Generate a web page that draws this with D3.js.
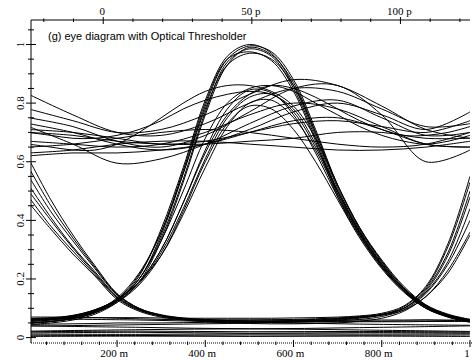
<!DOCTYPE html>
<html>
<head>
<meta charset="utf-8">
<script src="https://cdn.jsdelivr.net/npm/d3@7"></script>
<style>
  body { margin: 0; background: #fff; }
  svg { display: block; }
  .curve { fill: none; stroke: #000; stroke-width: 1; }
  .lab { font-family: "Liberation Serif", serif; font-size: 11px; fill: #000; }
</style>
</head>
<body>
<svg class="chart"></svg>
<script>
const width = 475, height = 360;

// sample times (m) for each kind of trace
const timeFine = [0, 50, 100, 150, 200, 250, 300, 350, 400, 450, 500, 550, 600, 650, 700, 750, 800, 850, 900, 950, 1000];
const timeCoarse = [0, 100, 200, 300, 400, 500, 600, 700, 800, 900, 1000];
const timeFlat = [0, 250, 500, 750, 1000];

// isolated "1" pulses reaching the top
const pulsesHigh = [
  [0.05, 0.055, 0.065, 0.085, 0.125, 0.21, 0.37, 0.58, 0.81, 0.96, 1.0, 0.97, 0.86, 0.69, 0.50, 0.36, 0.25, 0.165, 0.105, 0.075, 0.06],
  [0.055, 0.06, 0.07, 0.09, 0.13, 0.20, 0.35, 0.56, 0.79, 0.95, 0.995, 0.975, 0.88, 0.71, 0.52, 0.37, 0.26, 0.17, 0.11, 0.078, 0.062],
  [0.045, 0.05, 0.06, 0.08, 0.12, 0.19, 0.33, 0.53, 0.76, 0.93, 0.99, 0.965, 0.87, 0.70, 0.51, 0.365, 0.255, 0.165, 0.105, 0.07, 0.052],
  [0.06, 0.063, 0.07, 0.09, 0.128, 0.20, 0.34, 0.54, 0.77, 0.94, 0.985, 0.96, 0.85, 0.68, 0.49, 0.35, 0.245, 0.16, 0.10, 0.07, 0.055],
  [0.05, 0.055, 0.066, 0.088, 0.13, 0.215, 0.36, 0.57, 0.80, 0.95, 0.975, 0.945, 0.84, 0.67, 0.48, 0.345, 0.24, 0.158, 0.10, 0.072, 0.058],
  [0.058, 0.062, 0.072, 0.092, 0.135, 0.22, 0.36, 0.56, 0.78, 0.93, 0.97, 0.95, 0.86, 0.70, 0.52, 0.375, 0.265, 0.175, 0.112, 0.08, 0.062]
];

// lower "1" pulses
const pulsesLow = [
  [0.06, 0.065, 0.074, 0.094, 0.13, 0.19, 0.30, 0.46, 0.64, 0.78, 0.845, 0.835, 0.76, 0.63, 0.48, 0.35, 0.24, 0.16, 0.105, 0.075, 0.06],
  [0.055, 0.06, 0.07, 0.09, 0.125, 0.185, 0.29, 0.44, 0.61, 0.75, 0.82, 0.83, 0.77, 0.65, 0.50, 0.36, 0.25, 0.165, 0.11, 0.077, 0.06],
  [0.065, 0.068, 0.076, 0.095, 0.13, 0.19, 0.28, 0.42, 0.58, 0.72, 0.80, 0.81, 0.75, 0.64, 0.49, 0.355, 0.245, 0.16, 0.105, 0.074, 0.058],
  [0.05, 0.055, 0.065, 0.085, 0.12, 0.18, 0.28, 0.43, 0.60, 0.73, 0.79, 0.78, 0.71, 0.60, 0.47, 0.34, 0.235, 0.155, 0.10, 0.072, 0.055]
];

// "1" pulses with a "1" on one side
const pulsesMixed = [
  [0.06, 0.065, 0.075, 0.095, 0.13, 0.19, 0.30, 0.46, 0.63, 0.76, 0.83, 0.86, 0.85, 0.82, 0.78, 0.74, 0.71, 0.69, 0.69, 0.70, 0.72],
  [0.70, 0.69, 0.68, 0.68, 0.69, 0.71, 0.74, 0.78, 0.81, 0.83, 0.84, 0.83, 0.78, 0.66, 0.50, 0.36, 0.25, 0.165, 0.105, 0.075, 0.06],
  [0.05, 0.055, 0.065, 0.085, 0.125, 0.20, 0.33, 0.50, 0.68, 0.80, 0.85, 0.86, 0.84, 0.80, 0.76, 0.72, 0.69, 0.67, 0.66, 0.67, 0.69],
  [0.66, 0.65, 0.64, 0.64, 0.66, 0.70, 0.75, 0.80, 0.84, 0.86, 0.86, 0.84, 0.79, 0.68, 0.52, 0.375, 0.26, 0.17, 0.108, 0.076, 0.06]
];

// "0" bits after a "1" (falling on the left)
const fallingLeft = [
  [0.61, 0.47, 0.35, 0.245, 0.15, 0.10, 0.078, 0.067, 0.062, 0.06, 0.06, 0.06, 0.06, 0.062, 0.065, 0.07, 0.078, 0.10, 0.16, 0.28, 0.48],
  [0.55, 0.43, 0.33, 0.235, 0.145, 0.098, 0.076, 0.066, 0.06, 0.058, 0.057, 0.057, 0.058, 0.058, 0.059, 0.06, 0.06, 0.06, 0.061, 0.06, 0.06],
  [0.52, 0.41, 0.31, 0.225, 0.14, 0.096, 0.075, 0.064, 0.058, 0.055, 0.054, 0.054, 0.055, 0.056, 0.058, 0.062, 0.072, 0.095, 0.15, 0.25, 0.40],
  [0.48, 0.38, 0.295, 0.215, 0.135, 0.093, 0.073, 0.062, 0.056, 0.053, 0.052, 0.052, 0.052, 0.053, 0.053, 0.054, 0.054, 0.054, 0.055, 0.055, 0.055],
  [0.46, 0.37, 0.285, 0.21, 0.13, 0.09, 0.07, 0.06, 0.054, 0.05, 0.048, 0.047, 0.047, 0.048, 0.05, 0.056, 0.066, 0.09, 0.14, 0.22, 0.35],
  [0.58, 0.45, 0.34, 0.24, 0.148, 0.10, 0.076, 0.065, 0.06, 0.058, 0.056, 0.055, 0.055, 0.055, 0.055, 0.056, 0.056, 0.057, 0.057, 0.058, 0.058],
  [0.50, 0.40, 0.305, 0.22, 0.138, 0.095, 0.074, 0.063, 0.057, 0.054, 0.053, 0.053, 0.054, 0.056, 0.06, 0.066, 0.078, 0.105, 0.17, 0.31, 0.53]
];

// "0" bits before a "1" (rising on the right)
const risingRight = [
  [0.045, 0.046, 0.047, 0.048, 0.05, 0.05, 0.05, 0.051, 0.052, 0.053, 0.054, 0.056, 0.058, 0.06, 0.064, 0.07, 0.078, 0.10, 0.165, 0.29, 0.50],
  [0.065, 0.066, 0.067, 0.068, 0.068, 0.068, 0.067, 0.066, 0.066, 0.066, 0.066, 0.066, 0.067, 0.068, 0.07, 0.074, 0.083, 0.108, 0.175, 0.32, 0.55],
  [0.04, 0.04, 0.041, 0.042, 0.043, 0.044, 0.045, 0.046, 0.047, 0.048, 0.05, 0.052, 0.055, 0.058, 0.062, 0.068, 0.076, 0.094, 0.14, 0.23, 0.36],
  [0.07, 0.07, 0.069, 0.068, 0.066, 0.064, 0.062, 0.061, 0.06, 0.06, 0.06, 0.061, 0.062, 0.064, 0.067, 0.072, 0.08, 0.10, 0.155, 0.26, 0.44]
];

// runs of "1" bits
const onesRun = [
  [0.83, 0.76, 0.70, 0.69, 0.73, 0.80, 0.85, 0.84, 0.78, 0.72, 0.73],
  [0.78, 0.74, 0.70, 0.71, 0.76, 0.83, 0.88, 0.86, 0.79, 0.71, 0.68],
  [0.75, 0.72, 0.67, 0.65, 0.69, 0.77, 0.85, 0.86, 0.76, 0.60, 0.64],
  [0.73, 0.70, 0.66, 0.64, 0.66, 0.71, 0.77, 0.80, 0.76, 0.71, 0.77],
  [0.72, 0.66, 0.595, 0.61, 0.66, 0.73, 0.79, 0.81, 0.75, 0.69, 0.70],
  [0.71, 0.70, 0.68, 0.66, 0.67, 0.70, 0.73, 0.74, 0.72, 0.70, 0.74],
  [0.70, 0.69, 0.67, 0.66, 0.66, 0.67, 0.68, 0.70, 0.70, 0.68, 0.68],
  [0.67, 0.66, 0.65, 0.66, 0.70, 0.76, 0.80, 0.78, 0.72, 0.66, 0.65],
  [0.65, 0.66, 0.68, 0.70, 0.71, 0.70, 0.68, 0.66, 0.65, 0.66, 0.70],
  [0.63, 0.64, 0.66, 0.67, 0.67, 0.66, 0.65, 0.64, 0.64, 0.65, 0.67],
  [0.62, 0.63, 0.63, 0.64, 0.66, 0.70, 0.74, 0.75, 0.71, 0.66, 0.65]
];

// runs of "0" bits
const zerosRun = [
  [0.004, 0.005, 0.004, 0.005, 0.004],
  [0.008, 0.007, 0.009, 0.008, 0.009],
  [0.012, 0.011, 0.013, 0.012, 0.013],
  [0.016, 0.018, 0.015, 0.017, 0.016],
  [0.02, 0.022, 0.02, 0.021, 0.019],
  [0.022, 0.027, 0.03, 0.026, 0.021],
  [0.04, 0.035, 0.03, 0.034, 0.04],
  [0.064, 0.06, 0.052, 0.046, 0.042]
];

const yMajor = [0, 0.2, 0.4, 0.6, 0.8, 1];
const yMinor = [0.05, 0.1, 0.15, 0.25, 0.3, 0.35, 0.45, 0.5, 0.55, 0.65, 0.7, 0.75, 0.85, 0.9, 0.95, 1.05];
const xMajor = [200, 400, 600, 800, 1000];
const xMajorLabels = ["200 m", "400 m", "600 m", "800 m", "1"];
const xMinor = [40, 80, 120, 160, 240, 280, 320, 360, 440, 480, 520, 560, 640, 680, 720, 760, 840, 880, 920, 960];
const topMajor = [0, 50, 100];
const topMajorLabels = ["0", "50 p", "100 p"];
const topMinor = [-20, -10, 10, 20, 30, 40, 60, 70, 80, 90, 110, 120];

const title = "(g) eye diagram with Optical Thresholder";

const plot = { left: 31, right: 470, top: 20, bottom: 343 };

let x = d3.scaleLinear().domain([5, 1000]).range([plot.left, plot.right]);
let xTop = d3.scaleLinear().domain([-24.3, 123.4]).range([plot.left, plot.right]);
let y = d3.scaleLinear().domain([0, 1]).range([337.6, 44.5]);

let chart = d3.select(".chart")
  .attr("width", width)
  .attr("height", height);

chart.append("clipPath").attr("id", "clip")
  .append("rect")
  .attr("x", plot.left).attr("y", plot.top)
  .attr("width", plot.right - plot.left).attr("height", plot.bottom - plot.top);

let traces = [];
const addTraces = (list, times) => list.forEach(vals => {
  traces.push(vals.map((v, i) => [times[i], v]));
});
addTraces(zerosRun, timeFlat);
addTraces(onesRun, timeCoarse);
addTraces(fallingLeft, timeFine);
addTraces(risingRight, timeFine);
addTraces(pulsesLow, timeFine);
addTraces(pulsesMixed, timeFine);
addTraces(pulsesHigh, timeFine);

let line = d3.line()
  .x(d => x(d[0]))
  .y(d => y(d[1]))
  .curve(d3.curveCatmullRom.alpha(0.5));

chart.append("g")
  .attr("clip-path", "url(#clip)")
  .selectAll("path")
  .data(traces)
  .enter().append("path")
  .attr("class", "curve")
  .attr("d", line);

// left axis
let leftAxis = chart.append("g");
leftAxis.append("line")
  .attr("x1", plot.left).attr("x2", plot.left)
  .attr("y1", plot.top).attr("y2", plot.bottom)
  .attr("stroke", "#000");
leftAxis.selectAll(".maj").data(yMajor).enter().append("line")
  .attr("x1", plot.left - 5).attr("x2", plot.left + 5)
  .attr("y1", d => y(d)).attr("y2", d => y(d))
  .attr("stroke", "#000");
leftAxis.selectAll(".min").data(yMinor).enter().append("line")
  .attr("x1", plot.left - 3).attr("x2", plot.left + 3)
  .attr("y1", d => y(d)).attr("y2", d => y(d))
  .attr("stroke", "#000");
leftAxis.selectAll("text").data(yMajor).enter().append("text")
  .attr("class", "lab")
  .attr("text-anchor", "middle")
  .attr("transform", d => `translate(24, ${y(d)}) rotate(-90)`)
  .text(d => d3.format("~g")(d));

// bottom axis
let bottomAxis = chart.append("g");
bottomAxis.append("line")
  .attr("x1", plot.left).attr("x2", plot.right + 2)
  .attr("y1", plot.bottom).attr("y2", plot.bottom)
  .attr("stroke", "#000")
  .attr("stroke-dasharray", "1,1");
bottomAxis.selectAll(".maj").data(xMajor).enter().append("line")
  .attr("x1", d => x(d)).attr("x2", d => x(d))
  .attr("y1", plot.bottom - 3).attr("y2", plot.bottom + 4)
  .attr("stroke", "#000");
bottomAxis.selectAll(".min").data(xMinor).enter().append("line")
  .attr("x1", d => x(d)).attr("x2", d => x(d))
  .attr("y1", plot.bottom - 1.5).attr("y2", plot.bottom + 2)
  .attr("stroke", "#000");
bottomAxis.selectAll("text").data(xMajor).enter().append("text")
  .attr("class", "lab")
  .attr("text-anchor", "middle")
  .attr("x", d => x(d) - 3)
  .attr("y", 357)
  .text((d, i) => xMajorLabels[i]);

// top axis
let topAxis = chart.append("g");
topAxis.append("line")
  .attr("x1", plot.left).attr("x2", plot.right)
  .attr("y1", plot.top).attr("y2", plot.top)
  .attr("stroke", "#000");
topAxis.selectAll(".maj").data(topMajor).enter().append("line")
  .attr("x1", d => xTop(d)).attr("x2", d => xTop(d))
  .attr("y1", plot.top - 3).attr("y2", plot.top + 4)
  .attr("stroke", "#000");
topAxis.selectAll(".min").data(topMinor).enter().append("line")
  .attr("x1", d => xTop(d)).attr("x2", d => xTop(d))
  .attr("y1", plot.top - 1.5).attr("y2", plot.top + 2)
  .attr("stroke", "#000");
topAxis.selectAll("text").data(topMajor).enter().append("text")
  .attr("class", "lab")
  .attr("text-anchor", "middle")
  .attr("x", d => xTop(d) - 1)
  .attr("y", 15)
  .text((d, i) => topMajorLabels[i]);

chart.append("text")
  .attr("x", 48)
  .attr("y", 40)
  .attr("font-family", "Liberation Sans, Arial, sans-serif")
  .attr("font-size", 11)
  .text(title);
</script>
</body>
</html>
